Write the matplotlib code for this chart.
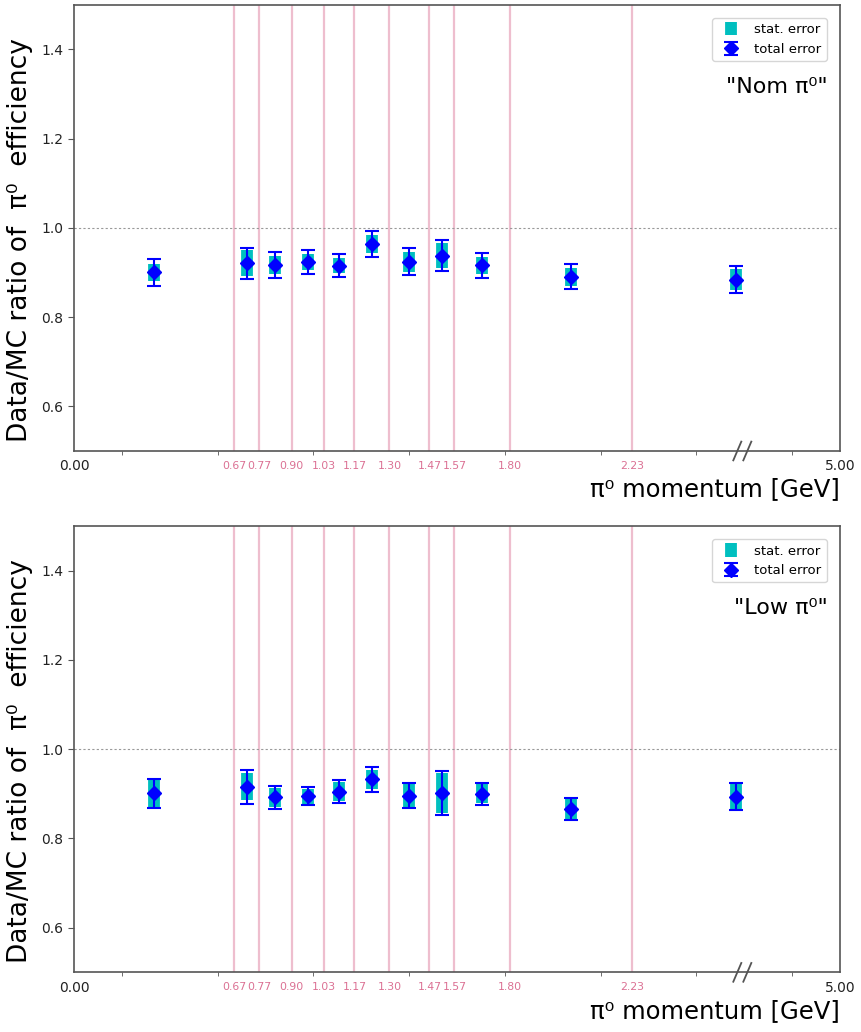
import numpy as np
import matplotlib
matplotlib.use('Agg')
import matplotlib.pyplot as plt

# bin edges (axis position) and the labels printed under them
edge_pos = [0.64, 0.74, 0.87, 1.00, 1.12, 1.26, 1.42, 1.52, 1.74, 2.23]
edge_labels = ['0.67', '0.77', '0.90', '1.03', '1.17', '1.30', '1.47', '1.57', '1.80', '2.23']
x_end = 3.06          # right end of axis, labelled 5.00
x_break = 2.67        # position of the axis break marks
end_labels = ['0.00', '5.00']

# "Nom pi0" sample
nom_ratio = [0.900, 0.921, 0.917, 0.924, 0.915, 0.964, 0.924, 0.938, 0.916, 0.890, 0.884]
nom_stat = [0.019, 0.029, 0.020, 0.018, 0.017, 0.021, 0.023, 0.028, 0.019, 0.020, 0.023]
nom_total = [0.031, 0.035, 0.030, 0.027, 0.026, 0.029, 0.030, 0.035, 0.028, 0.028, 0.031]

# "Low pi0" sample
low_ratio = [0.901, 0.916, 0.892, 0.895, 0.905, 0.933, 0.896, 0.902, 0.900, 0.866, 0.894]
low_stat = [0.030, 0.030, 0.022, 0.017, 0.021, 0.021, 0.025, 0.044, 0.021, 0.022, 0.027]
low_total = [0.033, 0.038, 0.025, 0.021, 0.025, 0.028, 0.028, 0.050, 0.024, 0.024, 0.031]

panels = [('"Nom π⁰"', nom_ratio, nom_stat, nom_total),
          ('"Low π⁰"', low_ratio, low_stat, low_total)]

pink = '#db7093'
spine_col = '#555555'

bounds = np.r_[0.0, edge_pos, x_end]
centers = 0.5 * (bounds[:-1] + bounds[1:])

fig = plt.figure(figsize=(8.62, 10.32), dpi=100)
ax_rects = [[0.0858, 0.5630, 0.8886, 0.4324],
            [0.0858, 0.0578, 0.8886, 0.4324]]

for rect, (tag, ratio, stat, total) in zip(ax_rects, panels):
    ax = fig.add_axes(rect)

    # bin boundaries
    for e in edge_pos:
        ax.axvline(e, color=pink, alpha=0.45, lw=1.6, zorder=1)
    ax.axhline(1.0, color='#999999', ls=(0, (2, 2)), lw=0.8, zorder=1)

    ax.errorbar(centers, ratio, yerr=stat, fmt='none', ecolor='c',
                elinewidth=8.5, zorder=3, label='stat. error')
    ax.errorbar(centers, ratio, yerr=total, fmt='D', color='b', ms=7,
                elinewidth=1.5, capsize=4.7, capthick=1.5, zorder=4,
                label='total error')

    ax.set_xlim(0, x_end)
    ax.set_ylim(0.5, 1.5)
    ax.set_yticks([0.6, 0.8, 1.0, 1.2, 1.4])
    ax.tick_params(axis='y', labelsize=10, length=4, color=spine_col,
                   labelcolor='#222222')

    ax.set_xticks([0, x_end])
    ax.set_xticklabels(end_labels)
    ax.set_xticks(x_end * (2 * np.arange(8) + 1) / 16, minor=True)
    ax.tick_params(axis='x', which='major', length=0, labelsize=10,
                   labelcolor='#222222', pad=6)
    ax.tick_params(axis='x', which='minor', length=3, color=spine_col)

    for e, lab in zip(edge_pos, edge_labels):
        ax.text(e, -0.022, lab, transform=ax.get_xaxis_transform(),
                ha='center', va='top', fontsize=7.8, color=pink)

    for sp in ax.spines.values():
        sp.set_color(spine_col)
        sp.set_linewidth(1.2)

    # axis break marks
    for dx in (-0.02, 0.02):
        ax.plot([x_break + dx - 0.016, x_break + dx + 0.016],
                [-0.021, 0.021], transform=ax.get_xaxis_transform(),
                color=spine_col, lw=1.3, clip_on=False, zorder=5)

    ax.set_ylabel('Data/MC ratio of  π⁰  efficiency', fontsize=19)
    ax.yaxis.set_label_coords(-0.053, 0.473)
    ax.set_xlabel('π⁰ momentum [GeV]', fontsize=17.5, loc='right', labelpad=3)

    ax.text(0.984, 0.803, tag, transform=ax.transAxes, ha='right',
            va='baseline', fontsize=16)

    ax.legend(loc='upper right', fontsize=9.5, borderaxespad=1.0,
              handlelength=2.0, framealpha=0.8)

fig.savefig('out.png', dpi=100)
plt.close(fig)
